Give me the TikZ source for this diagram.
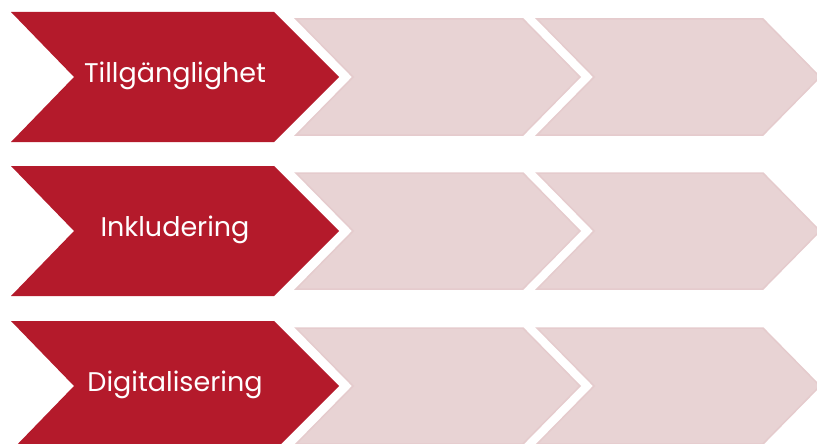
\documentclass[tikz,border=0pt]{standalone}
\usepackage{fontspec}
\setmainfont{Poppins}
\definecolor{darkred}{HTML}{B41A2B}
\definecolor{lightfill}{HTML}{E8D3D4}
\definecolor{lightline}{HTML}{E5CBCD}
\begin{document}
\begin{tikzpicture}[x=1pt,y=-1pt,
  darkchev/.style={fill=darkred},
  lightchev/.style={fill=lightfill,draw=lightline,line width=1.5pt,line join=miter},
  label/.style={text=white,font=\fontsize{27}{30}\selectfont,anchor=base}]
\useasboundingbox (0,0) rectangle (817,444);
\begin{scope}
\clip (0,0) rectangle (817,444);
\foreach \c/\t/\n in {77/Tillgänglighet/a,231/Inkludering/b,386/Digitalisering/c}{
  \fill[darkred] (11,\c-65) -- (274,\c-65) -- (339,\c) -- (274,\c+65) -- (11,\c+65) -- (74,\c) -- cycle;
  \draw[lightchev] (296,\c-58) -- (523,\c-58) -- (580,\c) -- (523,\c+58) -- (296,\c+58) -- (353,\c) -- cycle;
  \draw[lightchev] (537,\c-58) -- (763,\c-58) -- (820,\c) -- (763,\c+58) -- (537,\c+58) -- (594,\c) -- cycle;
  \node[label] (\n) at (175,\c+5) {\t};
}
\end{scope}
\end{tikzpicture}
\end{document}
